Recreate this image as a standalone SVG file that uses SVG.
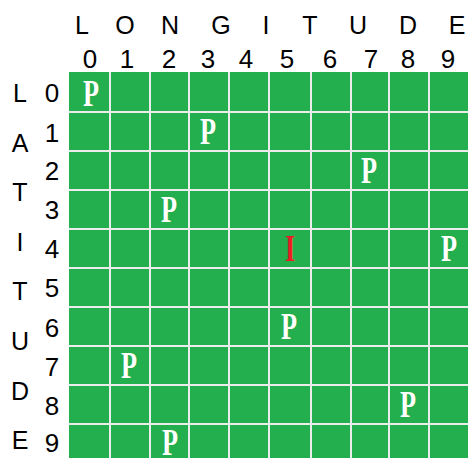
<svg xmlns="http://www.w3.org/2000/svg" width="468" height="458" viewBox="0 0 468 458">
<style>
.lab{font-family:"Liberation Sans",Arial,sans-serif;font-size:25px;fill:#000;text-anchor:middle}
.num{font-family:"Liberation Sans",Arial,sans-serif;font-size:26px;fill:#000;text-anchor:middle}
.gl{stroke:#ECECEC;stroke-width:2}
.p{font-family:"Liberation Serif","Times New Roman",serif;font-weight:bold;font-size:32px;fill:#fff;text-anchor:middle}
.i{font-family:"Liberation Serif","Times New Roman",serif;font-weight:bold;font-size:32px;fill:#ED1C24;text-anchor:middle}
</style>
<rect width="468" height="458" fill="#fff"/>
<g id="grid">
<rect x="69" y="72" width="399" height="386" fill="#23AF4E"/>
<g class="gl">
<line x1="110" y1="72" x2="110" y2="458"/>
<line x1="150" y1="72" x2="150" y2="458"/>
<line x1="189" y1="72" x2="189" y2="458"/>
<line x1="229" y1="72" x2="229" y2="458"/>
<line x1="269" y1="72" x2="269" y2="458"/>
<line x1="311" y1="72" x2="311" y2="458"/>
<line x1="351" y1="72" x2="351" y2="458"/>
<line x1="389" y1="72" x2="389" y2="458"/>
<line x1="429" y1="72" x2="429" y2="458"/>
<line x1="69" y1="112" x2="468" y2="112"/>
<line x1="69" y1="151" x2="468" y2="151"/>
<line x1="69" y1="190" x2="468" y2="190"/>
<line x1="69" y1="229" x2="468" y2="229"/>
<line x1="69" y1="268" x2="468" y2="268"/>
<line x1="69" y1="307" x2="468" y2="307"/>
<line x1="69" y1="346" x2="468" y2="346"/>
<line x1="69" y1="385" x2="468" y2="385"/>
<line x1="69" y1="424" x2="468" y2="424"/>
</g>
</g>
<g id="longitude-label">
<text class="lab" x="82" y="34">L</text>
<text class="lab" x="125" y="34">O</text>
<text class="lab" x="170" y="34">N</text>
<text class="lab" x="221" y="34">G</text>
<text class="lab" x="266" y="34">I</text>
<text class="lab" x="310" y="34">T</text>
<text class="lab" x="358" y="34">U</text>
<text class="lab" x="408" y="34">D</text>
<text class="lab" x="457" y="34">E</text>
</g>
<g id="longitude-numbers">
<text class="num" x="90" y="68">0</text>
<text class="num" x="127" y="68">1</text>
<text class="num" x="169" y="68">2</text>
<text class="num" x="208" y="68">3</text>
<text class="num" x="246" y="68">4</text>
<text class="num" x="287" y="68">5</text>
<text class="num" x="330" y="68">6</text>
<text class="num" x="371" y="68">7</text>
<text class="num" x="408" y="68">8</text>
<text class="num" x="448" y="68">9</text>
</g>
<g id="latitude-label">
<text class="lab" x="20" y="102">L</text>
<text class="lab" x="20" y="151.6">A</text>
<text class="lab" x="20" y="201.2">T</text>
<text class="lab" x="20" y="250.8">I</text>
<text class="lab" x="20" y="300.4">T</text>
<text class="lab" x="20" y="350">U</text>
<text class="lab" x="20" y="399.6">D</text>
<text class="lab" x="20" y="449.2">E</text>
</g>
<g id="latitude-numbers">
<text class="num" x="52" y="102">0</text>
<text class="num" x="52" y="142">1</text>
<text class="num" x="52" y="180">2</text>
<text class="num" x="52" y="219">3</text>
<text class="num" x="52" y="258">4</text>
<text class="num" x="52" y="297">5</text>
<text class="num" x="52" y="337">6</text>
<text class="num" x="52" y="376">7</text>
<text class="num" x="52" y="415">8</text>
<text class="num" x="52" y="452">9</text>
</g>
<g id="markers">
<g id="p-0-0"><text class="p" transform="translate(91 106) scale(0.82 1.2)">P</text></g>
<g id="p-1-3"><text class="p" transform="translate(208 144) scale(0.82 1.2)">P</text></g>
<g id="p-2-7"><text class="p" transform="translate(369 183) scale(0.82 1.2)">P</text></g>
<g id="p-3-2"><text class="p" transform="translate(169 222) scale(0.82 1.2)">P</text></g>
<g id="i-4-5"><text class="i" transform="translate(290 261) scale(0.82 1.2)">I</text></g>
<g id="p-4-9"><text class="p" transform="translate(449 261) scale(0.82 1.2)">P</text></g>
<g id="p-6-5"><text class="p" transform="translate(289 339) scale(0.82 1.2)">P</text></g>
<g id="p-7-1"><text class="p" transform="translate(129 378) scale(0.82 1.2)">P</text></g>
<g id="p-8-8"><text class="p" transform="translate(408 417) scale(0.82 1.2)">P</text></g>
<g id="p-9-2"><text class="p" transform="translate(170 455) scale(0.82 1.2)">P</text></g>
</g>
</svg>
